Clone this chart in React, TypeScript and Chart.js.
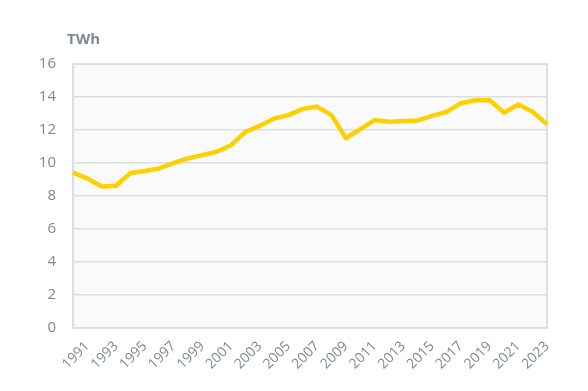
import React, { useEffect, useRef } from 'react';
import { Chart, registerables } from 'chart.js';

Chart.register(...registerables);

const years: string[] = [
  '1990', '1991', '1992', '1993', '1994', '1995', '1996', '1997', '1998', '1999',
  '2000', '2001', '2002', '2003', '2004', '2005', '2006', '2007', '2008', '2009',
  '2010', '2011', '2012', '2013', '2014', '2015', '2016', '2017', '2018', '2019',
  '2020', '2021', '2022', '2023',
];

const twh: number[] = [
  9.42, 9.07, 8.58, 8.62, 9.40, 9.52, 9.67, 10.0, 10.28, 10.48,
  10.68, 11.08, 11.88, 12.25, 12.7, 12.9, 13.28, 13.42, 12.9, 11.5,
  12.05, 12.6, 12.5, 12.55, 12.58, 12.85, 13.1, 13.62, 13.8, 13.82,
  13.05, 13.55, 13.1, 12.35,
];

const yMin = 0;
const yMax = 16;
const yStep = 2;
const unitLabel = 'TWh';

const FONT = "'Open Sans', sans-serif";
const TEXT = '#7d8a8e';
const GRID = '#d9dfe2';

const plotDeco = {
  id: 'plotDeco',
  beforeDraw(chart: any) {
    const { ctx, chartArea: a } = chart;
    ctx.save();
    ctx.fillStyle = '#fafafa';
    ctx.fillRect(a.left, a.top, a.right - a.left, a.bottom - a.top);
    ctx.restore();
  },
  beforeDatasetsDraw(chart: any) {
    const { ctx, chartArea: a } = chart;
    ctx.save();
    ctx.strokeStyle = GRID;
    ctx.lineWidth = 2;
    ctx.strokeRect(a.left, a.top, a.right - a.left, a.bottom - a.top);
    ctx.restore();
  },
  afterDraw(chart: any) {
    const { ctx, chartArea: a } = chart;
    ctx.save();
    ctx.fillStyle = TEXT;
    ctx.font = `bold 15px ${FONT}`;
    ctx.textBaseline = 'middle';
    ctx.textAlign = 'left';
    ctx.fillText(unitLabel, a.left - 6, 40);
    ctx.restore();
  },
};

export default function App() {
  const ref = useRef<HTMLCanvasElement | null>(null);

  useEffect(() => {
    document.body.style.margin = '0';
    const canvas = ref.current;
    if (!canvas) return;
    const chart = new Chart(canvas, {
      type: 'line',
      data: {
        labels: years,
        datasets: [
          {
            data: twh,
            borderColor: '#ffd000',
            borderWidth: 4.5,
            pointRadius: 0,
            tension: 0,
            fill: false,
            borderJoinStyle: 'round',
          },
        ],
      },
      options: {
        responsive: false,
        animation: false,
        layout: { padding: { top: 64, right: 41, bottom: 8, left: 8 } },
        plugins: {
          legend: { display: false },
          tooltip: { enabled: false },
        },
        scales: {
          x: {
            offset: false,
            grid: { display: false },
            border: { display: false },
            ticks: {
              autoSkip: false,
              maxRotation: 45,
              minRotation: 45,
              color: TEXT,
              font: { family: FONT, size: 14 },
              padding: 2,
              callback: (_v: any, i: number) => (Number(years[i]) % 2 === 1 ? years[i] : ''),
            },
            afterFit: (s: any) => {
              s.height = 391 - 328 - 8;
            },
          },
          y: {
            min: yMin,
            max: yMax,
            grid: { color: GRID, lineWidth: 1.5, drawTicks: false },
            border: { display: false },
            ticks: {
              stepSize: yStep,
              color: TEXT,
              font: { family: FONT, size: 15 },
              padding: 17,
            },
            afterFit: (s: any) => {
              s.width = 73 - 8;
            },
          },
        },
      },
      plugins: [plotDeco],
    });
    return () => chart.destroy();
  }, []);

  return <canvas ref={ref} width={588} height={391} style={{ display: 'block' }} />;
}
